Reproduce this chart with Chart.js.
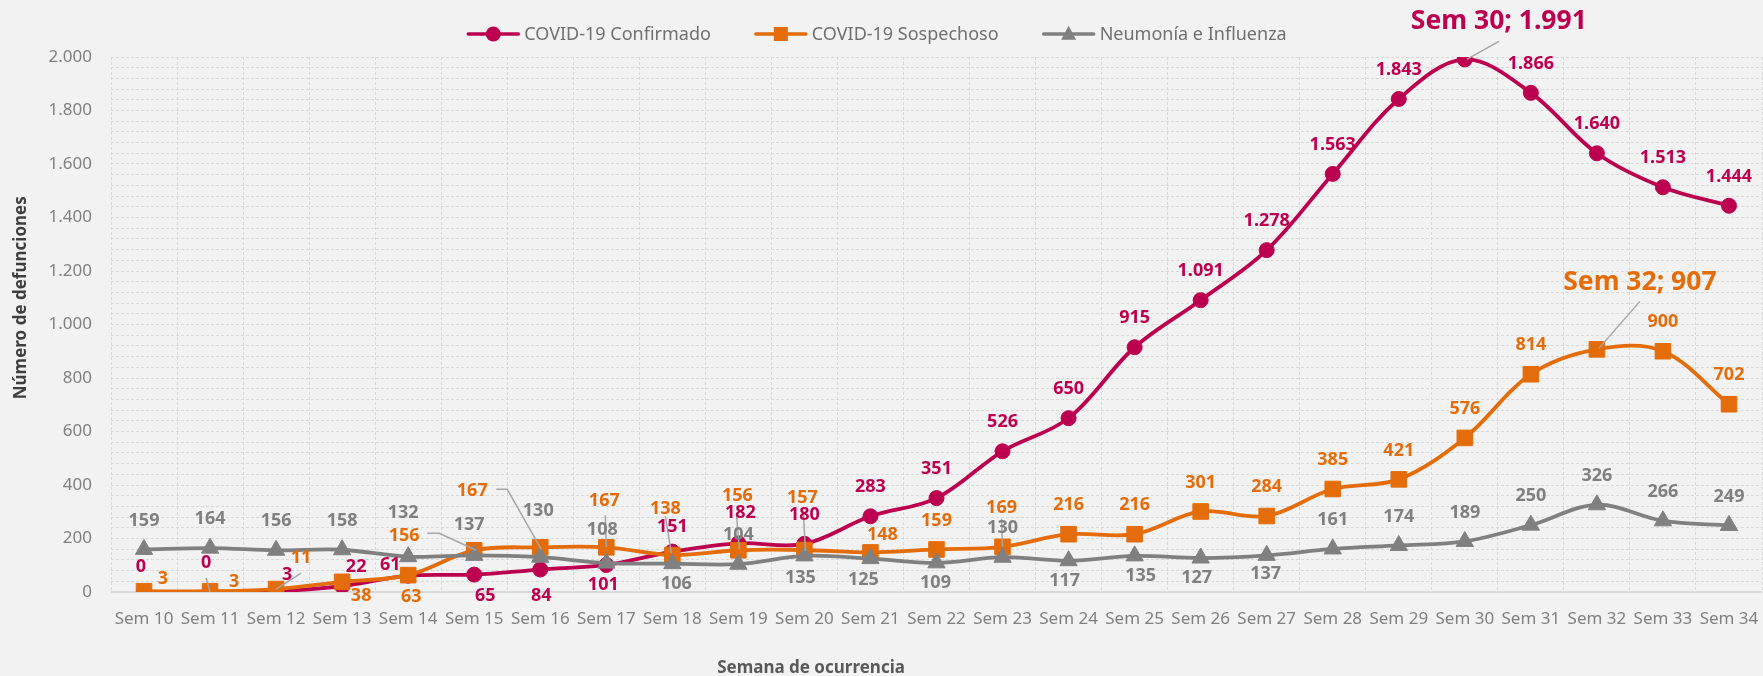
<!DOCTYPE html>
<html lang="es">
<head>
<meta charset="utf-8">
<title>Defunciones por semana de ocurrencia</title>
<script src="https://cdn.jsdelivr.net/npm/chart.js@4.4.1/dist/chart.umd.min.js"></script>
<style>
  html, body { margin: 0; padding: 0; background: #f2f2f2; overflow: hidden; }
  #wrap { width: 1763px; height: 676px; position: relative; }
  #wrap canvas { display: block; }
</style>
</head>
<body>
<div id="wrap"><canvas id="myChart"></canvas></div>
<script>
// data
const semanas = ['Sem 10', 'Sem 11', 'Sem 12', 'Sem 13', 'Sem 14', 'Sem 15', 'Sem 16', 'Sem 17', 'Sem 18',
    'Sem 19', 'Sem 20', 'Sem 21', 'Sem 22', 'Sem 23', 'Sem 24', 'Sem 25', 'Sem 26', 'Sem 27', 'Sem 28',
    'Sem 29', 'Sem 30', 'Sem 31', 'Sem 32', 'Sem 33', 'Sem 34'];
const seriesNames = ['COVID-19 Confirmado', 'COVID-19 Sospechoso', 'Neumonía e Influenza'];
const confirmado = [0, 0, 3, 22, 61, 65, 84, 101, 151, 182, 180, 283, 351, 526, 650, 915, 1091, 1278, 1563,
    1843, 1991, 1866, 1640, 1513, 1444];
const sospechoso = [3, 3, 11, 38, 63, 156, 167, 167, 138, 156, 157, 148, 159, 169, 216, 216, 301, 284, 385,
    421, 576, 814, 907, 900, 702];
const neumonia = [159, 164, 156, 158, 132, 137, 130, 108, 106, 104, 135, 125, 109, 130, 117, 135, 127, 137, 161,
    174, 189, 250, 326, 266, 249];
const yTicks = [0, 200, 400, 600, 800, 1000, 1200, 1400, 1600, 1800, 2000];
const yTitle = 'Número de defunciones';
const xTitle = 'Semana de ocurrencia';

const FONT = '"Noto Sans", "Open Sans", sans-serif';
const colConf = '#BC004F';
const colSosp = '#E46C0A';
const colNeu = '#808080';

const fmt = v => String(v).replace(/\B(?=(\d{3})+(?!\d))/g, '.');

// label placement tweaks (offset from the point, leader line points relative to the point)
const labelPos = [
    {
        0: {dx: -3, dy: -25},
        1: {dx: -4, dy: -29, lead: [[-4, -14], [0, 0]]},
        2: {dx: 11, dy: -16},
        3: {dx: 14, dy: -19},
        4: {dx: -18, dy: -11},
        5: {dx: 11, dy: 21},
        6: {dx: 1, dy: 26},
        7: {dx: -3, dy: 20},
        8: {dx: 0, dy: -25},
        9: {dx: 2, dy: -30},
        20: {dx: 34, dy: -38, big: true, lead: [[34, -18], [2, 0]]}
    },
    {
        0: {dx: 19, dy: -12},
        1: {dx: 24, dy: -9},
        2: {dx: 25, dy: -31, lead: [[25, -16], [0, 0]]},
        3: {dx: 19, dy: 14},
        4: {dx: 3, dy: 22},
        5: {dx: -70, dy: -14, lead: [[-47, -17], [-35, -17], [2, 0]]},
        6: {dx: -68, dy: -56, lead: [[-44, -58], [-33, -58], [1, 2]]},
        7: {dx: -2, dy: -46, lead: [[-1, -32], [0, 0]]},
        8: {dx: -7, dy: -46, lead: [[-7, -39], [-1, -2]]},
        9: {dx: -1, dy: -54, lead: [[-2, -37], [1, -1]]},
        10: {dx: -2, dy: -52, lead: [[-1, -37], [1, 1]]},
        11: {dx: 12, dy: -18},
        13: {dx: -1, dy: -39, lead: [[-1, -28], [0, 0]]},
        22: {dx: 43, dy: -67, big: true, lead: [[43, -48], [2, -1]]}
    },
    {
        4: {dx: -5, dy: -44},
        5: {dx: -5, dy: -30},
        6: {dx: -2, dy: -46},
        7: {dx: -4, dy: -33},
        8: {dx: 4, dy: 20},
        10: {dx: -4, dy: 22},
        11: {dx: -7, dy: 21},
        12: {dx: -1, dy: 20},
        14: {dx: -4, dy: 20},
        15: {dx: 6, dy: 20},
        16: {dx: -4, dy: 20},
        17: {dx: -1, dy: 19}
    }
];

function drawMarker(c, style, x, y, r, color) {
    c.fillStyle = color;
    c.beginPath();
    if (style === 'circle') {
        c.arc(x, y, r, 0, Math.PI * 2);
    } else if (style === 'rect') {
        c.rect(x - r, y - r, 2 * r, 2 * r);
    } else {
        c.moveTo(x, y - r * 1.1);
        c.lineTo(x + r, y + r * 0.75);
        c.lineTo(x - r, y + r * 0.75);
        c.closePath();
    }
    c.fill();
}

const legendPlugin = {
    id: 'lineLegend',
    afterDraw(chart) {
        const c = chart.ctx;
        c.save();
        c.font = '18px ' + FONT;
        c.textBaseline = 'middle';
        c.textAlign = 'left';
        const lineW = 54, gapText = 4, gapItem = 43, y = 34;
        const items = chart.data.datasets.map(ds => ({ds: ds, w: c.measureText(ds.label).width}));
        const total = items.reduce((s, it) => s + lineW + gapText + it.w, 0) + gapItem * (items.length - 1);
        let x = chart.width / 2 - 5 - total / 2;
        items.forEach(it => {
            c.strokeStyle = it.ds.borderColor;
            c.lineWidth = 3.5;
            c.lineCap = 'round';
            c.beginPath();
            c.moveTo(x + 2, y);
            c.lineTo(x + lineW - 2, y);
            c.stroke();
            const r = it.ds.pointStyle === 'rect' ? 7 : 7.5;
            drawMarker(c, it.ds.pointStyle, x + lineW / 2, y, r, it.ds.borderColor);
            c.fillStyle = '#707070';
            c.fillText(it.ds.label, x + lineW + gapText, y + 1);
            x += lineW + gapText + it.w + gapItem;
        });
        c.restore();
    }
};

const labelsPlugin = {
    id: 'valueLabels',
    afterDatasetsDraw(chart) {
        const c = chart.ctx;
        c.save();
        c.textAlign = 'center';
        c.textBaseline = 'middle';
        chart.data.datasets.forEach((ds, di) => {
            const meta = chart.getDatasetMeta(di);
            const pos = labelPos[di] || {};
            meta.data.forEach((pt, i) => {
                const p = pos[i] || {};
                if (p.lead) {
                    c.strokeStyle = '#a6a6a6';
                    c.lineWidth = 1.5;
                    c.beginPath();
                    p.lead.forEach((q, k) => {
                        if (k === 0) c.moveTo(pt.x + q[0], pt.y + q[1]);
                        else c.lineTo(pt.x + q[0], pt.y + q[1]);
                    });
                    c.stroke();
                }
            });
        });
        chart.data.datasets.forEach((ds, di) => {
            const meta = chart.getDatasetMeta(di);
            const pos = labelPos[di] || {};
            meta.data.forEach((pt, i) => {
                const p = pos[i] || {};
                const dx = p.dx !== undefined ? p.dx : 0;
                const dy = p.dy !== undefined ? p.dy : -29;
                const v = ds.data[i];
                c.fillStyle = ds.borderColor;
                if (p.big) {
                    c.font = 'bold 26.5px ' + FONT;
                    c.fillText(chart.data.labels[i] + '; ' + fmt(v), pt.x + dx, pt.y + dy);
                } else {
                    c.font = 'bold 18px ' + FONT;
                    c.fillText(fmt(v), pt.x + dx, pt.y + dy);
                }
            });
        });
        c.restore();
    }
};

const titlesPlugin = {
    id: 'axisTitles',
    afterDraw(chart) {
        const c = chart.ctx;
        const a = chart.chartArea;
        c.save();
        c.textAlign = 'center';
        c.textBaseline = 'middle';
        c.font = 'bold 17px ' + FONT;
        c.fillStyle = '#595959';
        c.fillText(xTitle, a.left + 0.424 * (a.right - a.left), 668);
        c.fillStyle = '#3f3f3f';
        c.translate(21, a.top + 0.45 * (a.bottom - a.top));
        c.rotate(-Math.PI / 2);
        c.fillText(yTitle, 0, 0);
        c.restore();
    }
};

const lineStyle = {
    borderWidth: 3.8,
    pointBorderWidth: 1,
    tension: 0.35,
    borderCapStyle: 'round',
    borderJoinStyle: 'round'
};

const canvas = document.getElementById('myChart');
canvas.width = 1763;
canvas.height = 676;
const ctx = canvas.getContext('2d');
new Chart(ctx, {
    type: 'line',
    data: {
        labels: semanas,
        datasets: [
            Object.assign({
                label: seriesNames[0], data: confirmado, borderColor: colConf, backgroundColor: colConf,
                pointStyle: 'circle', pointRadius: 7.5, pointHoverRadius: 7.5, order: 3
            }, lineStyle),
            Object.assign({
                label: seriesNames[1], data: sospechoso, borderColor: colSosp, backgroundColor: colSosp,
                pointStyle: 'rect', pointRadius: 11, pointHoverRadius: 11, order: 2
            }, lineStyle),
            Object.assign({
                label: seriesNames[2], data: neumonia, borderColor: colNeu, backgroundColor: colNeu,
                pointStyle: 'triangle', pointRadius: 10, pointHoverRadius: 10, order: 1
            }, lineStyle)
        ]
    },
    options: {
        responsive: false,
        animation: false,
        events: [],
        layout: { autoPadding: false, padding: { top: 57, right: 1, bottom: 0, left: 0 } },
        plugins: {
            legend: { display: false },
            tooltip: { enabled: false }
        },
        scales: {
            x: {
                offset: true,
                grid: { offset: true, color: '#d9d9d9', lineWidth: 1, drawTicks: true, tickLength: 17, tickColor: 'rgba(0,0,0,0)' },
                border: { display: false, dash: [3, 2] },
                ticks: { color: '#808080', font: { family: FONT, size: 17 }, padding: 0, maxRotation: 0, autoSkip: false },
                afterFit: s => { s.height = 84; s.paddingLeft = 0; s.paddingRight = 0; }
            },
            y: {
                min: 0,
                max: 2000,
                grid: {
                    color: '#d9d9d9',
                    lineWidth: c => (c.tick && c.tick.value === 0 ? 2 : 1),
                    drawTicks: false
                },
                border: { display: false, dash: c => (c.tick && c.tick.value === 0 ? [] : [3, 2]) },
                ticks: {
                    stepSize: 40,
                    autoSkip: false,
                    color: '#808080',
                    font: { family: FONT, size: 17 },
                    padding: 19,
                    callback: v => (yTicks.includes(v) ? fmt(v) : '')
                },
                afterFit: s => { s.width = 111; }
            }
        }
    },
    plugins: [legendPlugin, labelsPlugin, titlesPlugin]
});
</script>
</body>
</html>
